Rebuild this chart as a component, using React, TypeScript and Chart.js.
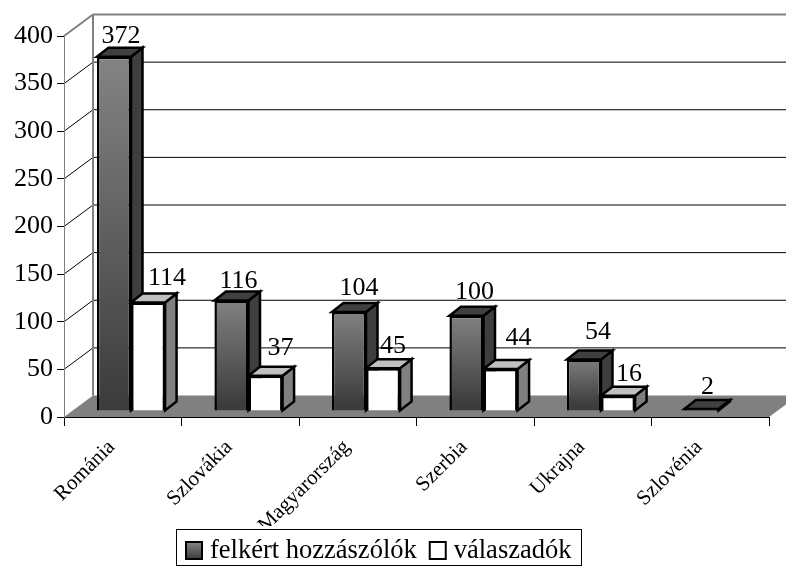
import React, { useEffect, useRef } from "react";
import { Chart, registerables } from "chart.js";

Chart.register(...registerables);

const categories = ["Románia", "Szlovákia", "Magyarország", "Szerbia", "Ukrajna", "Szlovénia"];
const requested = [372, 116, 104, 100, 54, 2];
const respondents = [114, 37, 45, 44, 16, null];
const seriesNames = ["felkért hozzászólók", "válaszadók"];

// label placement relative to the 3D bar top (px)
const labelNudgeX = [[7, 7, 10, 8, 14, 6], [19, 15, 10, 18, 11, 0]];
const labelGapY = [[5, 4, 8, 8, 12, 6], [8, 12, 6, 15, 6, 0]];

const SERIF = "'Liberation Serif', 'Times New Roman', serif";
const SHIFT = { x: 8.25, y: -6 };
const DEPTH = { x: 11.5, y: -9 };
const WALL = { x: 29, y: -21.5 };
const EDGE = 2.5;

function frontGradient(ctx: CanvasRenderingContext2D, top: number, bottom: number) {
  const g = ctx.createLinearGradient(0, top, 0, bottom);
  g.addColorStop(0, "#858585");
  g.addColorStop(1, "#3c3c3c");
  return g;
}

function poly(ctx: CanvasRenderingContext2D, pts: number[][], fill: string | null, stroke: string | null, lw = 1) {
  ctx.beginPath();
  pts.forEach((p, i) => (i ? ctx.lineTo(p[0], p[1]) : ctx.moveTo(p[0], p[1])));
  if (fill) {
    ctx.closePath();
    ctx.fillStyle = fill;
    ctx.fill();
  }
  if (stroke) {
    ctx.strokeStyle = stroke;
    ctx.lineWidth = lw;
    ctx.stroke();
  }
}

function drawFaces(chart: any, idx: number) {
  const c = chart.ctx;
  c.save();
  c.translate(SHIFT.x, SHIFT.y);
  c.lineJoin = "miter";
  chart.getDatasetMeta(idx).data.forEach((bar: any, i: number) => {
    const v = chart.data.datasets[idx].data[i];
    if (v == null) return;
    const hw = bar.width / 2;
    const l = bar.x - hw, r = bar.x + hw, t = bar.y, b = bar.base;
    const d = DEPTH;
    const side = idx === 0 ? "#3e3e3e" : "#808080";
    const top = idx === 0 ? "#404040" : "#c0c0c0";
    poly(c, [[r, t], [r + d.x, t + d.y], [r + d.x, b + d.y], [r, b]], side, "#000", EDGE);
    poly(c, [[l, t], [l + d.x, t + d.y], [r + d.x, t + d.y], [r, t]], top, "#000", EDGE);
  });
  c.restore();
}

function drawLegendBox(chart: any) {
  const c = chart.ctx;
  c.save();
  c.fillStyle = "#fff";
  c.fillRect(177, 529, 405, 36);
  c.strokeStyle = "#000";
  c.lineWidth = 1;
  c.strokeRect(176.5, 529.5, 405, 36);
  c.font = `26.5px ${SERIF}`;
  c.textBaseline = "alphabetic";
  c.textAlign = "left";
  let x = 186;
  seriesNames.forEach((name, i) => {
    c.fillStyle = i === 0 ? frontGradient(c, 542, 559) : "#fff";
    c.fillRect(x, 542, 16, 17);
    c.strokeStyle = "#000";
    c.lineWidth = 2;
    c.strokeRect(x, 542, 16, 17);
    x += 24;
    c.fillStyle = "#000";
    c.fillText(name, x, 558);
    x += c.measureText(name).width + 13;
  });
  c.restore();
}

const threeD = {
  id: "threeD",
  afterLayout(chart: any) {
    const lg = chart.legend;
    if (!lg.__wrapped) {
      lg.__wrapped = true;
      lg.draw = () => drawLegendBox(chart);
    }
  },
  beforeDraw(chart: any) {
    const c = chart.ctx;
    const { x, y } = chart.scales;
    const L = x.left, R = x.right, B = y.bottom;
    c.save();
    // floor
    poly(c, [[L, B], [L + WALL.x, B + WALL.y], [R + WALL.x, B + WALL.y], [R, B]], "#808080", null);
    // back wall grid lines and side wall diagonals
    y.ticks.forEach((t: any) => {
      const py = y.getPixelForValue(t.value);
      const isTop = t.value === y.max;
      const col = isTop ? "#808080" : "#000";
      if (t.value !== 0) {
        poly(c, [[L, py], [L + WALL.x, py + WALL.y]], null, col, isTop ? 2 : 1);
        poly(c, [[L + WALL.x, py + WALL.y], [R + WALL.x, py + WALL.y]], null, col, isTop ? 2 : 1);
      }
    });
    // back wall left edge
    poly(c, [[L + WALL.x, y.top + WALL.y], [L + WALL.x, B + WALL.y]], null, "#808080", 2);
    c.restore();
  },
  beforeDatasetsDraw(chart: any) {
    // the first series' depth faces sit behind every front face
    drawFaces(chart, 0);
  },
  beforeDatasetDraw(chart: any, args: any) {
    if (args.index === 1) drawFaces(chart, 1);
    chart.ctx.save();
    chart.ctx.translate(SHIFT.x, SHIFT.y);
  },
  afterDatasetDraw(chart: any) {
    chart.ctx.restore();
  },
  afterDatasetsDraw(chart: any) {
    const c = chart.ctx;
    c.save();
    c.font = `26px ${SERIF}`;
    c.fillStyle = "#000";
    c.textAlign = "center";
    c.textBaseline = "alphabetic";
    chart.data.datasets.forEach((ds: any, idx: number) => {
      chart.getDatasetMeta(idx).data.forEach((bar: any, i: number) => {
        const v = ds.data[i];
        if (v == null) return;
        c.fillText(
          String(v),
          bar.x + SHIFT.x + labelNudgeX[idx][i],
          bar.y + SHIFT.y + DEPTH.y - labelGapY[idx][i]
        );
      });
    });
    c.restore();
  },
};

export default function App() {
  const ref = useRef<HTMLCanvasElement>(null);
  useEffect(() => {
    document.body.style.margin = "0";
    const barFill = (context: any) => {
      const chart = context.chart;
      const y = chart.scales.y;
      if (context.type !== "data" || !y) return "#666";
      const top = y.getPixelForValue(context.raw ?? 0);
      const bottom = y.bottom;
      if (!Number.isFinite(top) || !Number.isFinite(bottom)) return "#666";
      return frontGradient(chart.ctx, top + SHIFT.y, bottom + SHIFT.y);
    };
    const chart = new Chart(ref.current as HTMLCanvasElement, {
      type: "bar",
      plugins: [threeD],
      data: {
        labels: categories,
        datasets: [
          {
            label: seriesNames[0],
            data: requested,
            backgroundColor: barFill,
            borderColor: "#000",
            borderWidth: EDGE,
            categoryPercentage: 0.58,
            barPercentage: 1,
          },
          {
            label: seriesNames[1],
            data: respondents,
            backgroundColor: "#fff",
            borderColor: "#000",
            borderWidth: EDGE,
            categoryPercentage: 0.58,
            barPercentage: 1,
          },
        ],
      },
      options: {
        animation: false,
        responsive: false,
        layout: { padding: { top: 36, left: 0, right: 17, bottom: 0 } },
        plugins: {
          tooltip: { enabled: false },
          legend: {
            position: "bottom",
            align: "center",
            labels: {
              font: { family: SERIF, size: 24 },
              boxWidth: 16,
              boxHeight: 16,
              padding: 6,
            },
          },
        },
        scales: {
          x: {
            type: "category",
            offset: true,
            afterFit: (s: any) => {
              s.height = 109;
            },
            grid: {
              offset: true,
              drawOnChartArea: false,
              drawTicks: true,
              tickLength: 9,
              tickColor: "#000",
            },
            border: { color: "#000", width: 1 },
            ticks: {
              z: -1,
              color: "#000",
              font: { family: SERIF, size: 21 },
              minRotation: 45,
              maxRotation: 45,
              padding: 9,
              labelOffset: -11,
              autoSkip: false,
            },
          },
          y: {
            min: 0,
            max: 400,
            afterFit: (s: any) => {
              s.width = 64;
            },
            grid: {
              drawOnChartArea: false,
              drawTicks: true,
              tickLength: 7,
              tickColor: "#000",
            },
            border: { color: "#808080", width: 1 },
            ticks: {
              stepSize: 50,
              color: "#000",
              font: { family: SERIF, size: 26 },
              padding: 4,
            },
          },
        },
      },
    } as any);
    return () => chart.destroy();
  }, []);
  return <canvas ref={ref} width={786} height={566} style={{ display: "block" }} />;
}
